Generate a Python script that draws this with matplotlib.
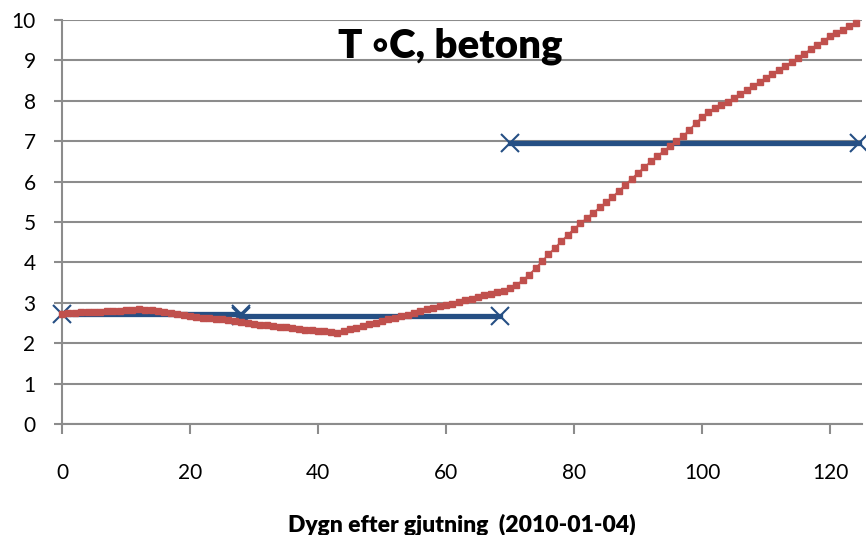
import matplotlib.pyplot as plt

# daily concrete temperature (red series), day 0..124
days = list(range(125))
temp = [
    2.73, 2.74, 2.75, 2.76, 2.77, 2.77, 2.78, 2.79, 2.79, 2.80,
    2.81, 2.82, 2.84, 2.83, 2.81, 2.79, 2.77, 2.75, 2.72, 2.70,
    2.67, 2.65, 2.63, 2.62, 2.60, 2.59, 2.57, 2.55, 2.52, 2.50,
    2.48, 2.46, 2.45, 2.43, 2.41, 2.39, 2.37, 2.35, 2.33, 2.32,
    2.30, 2.29, 2.27, 2.25, 2.30, 2.34, 2.38, 2.43, 2.47, 2.51,
    2.55, 2.59, 2.63, 2.67, 2.71, 2.75, 2.80, 2.84, 2.87, 2.91,
    2.95, 2.98, 3.02, 3.06, 3.10, 3.15, 3.19, 3.23, 3.27, 3.30,
    3.36, 3.45, 3.56, 3.70, 3.86, 4.03, 4.20, 4.36, 4.52, 4.68,
    4.83, 4.97, 5.10, 5.23, 5.36, 5.49, 5.62, 5.77, 5.92, 6.07,
    6.22, 6.36, 6.50, 6.63, 6.76, 6.88, 7.00, 7.12, 7.28, 7.44,
    7.60, 7.72, 7.81, 7.89, 7.97, 8.07, 8.17, 8.27, 8.37, 8.47,
    8.57, 8.67, 8.77, 8.87, 8.96, 9.06, 9.17, 9.28, 9.38, 9.49,
    9.60, 9.68, 9.76, 9.85, 9.93,
]

# step levels (blue series), one segment per pair
step_x = [[0, 28], [28, 68.5], [70, 124.5]]
step_y = [[2.73, 2.73], [2.67, 2.67], [6.95, 6.95]]

plt.rcParams['font.family'] = ['Lato', 'DejaVu Sans']

fig = plt.figure(figsize=(8.66, 5.35), dpi=100)
ax = fig.add_axes([62 / 866, 1 - 424 / 535, 800 / 866, 404 / 535])

ax.grid(axis='y', color='#8c8c8c', lw=1.5)
ax.set_axisbelow(True)

for xs, ys in zip(step_x, step_y):
    ax.plot(xs, ys, color='#254f84', lw=3.8, marker='x', ms=13, mew=1.5,
            clip_on=False, zorder=3)

ax.plot(days, temp, color='#c0504d', lw=1.0, marker='s', ms=4.5,
        mec='#c0504d', clip_on=False, zorder=4)

ax.set_xlim(0, 125)
ax.set_ylim(0, 10)
ax.set_xticks(range(0, 121, 20))
ax.set_yticks(range(0, 11))

for s in ['top', 'right']:
    ax.spines[s].set_visible(False)
for s in ['left', 'bottom']:
    ax.spines[s].set_color('#8c8c8c')
    ax.spines[s].set_linewidth(1.5)

ax.tick_params(axis='x', direction='out', length=7, width=1.5, color='#8c8c8c',
               labelsize=15, pad=21)
ax.tick_params(axis='y', direction='out', length=6, width=1.5, color='#8c8c8c',
               labelsize=15, pad=13)

ax.text(0.485, 0.935, 'T \u25e6C, betong', transform=ax.transAxes, ha='center',
        va='center', fontsize=29, fontweight='heavy')
ax.set_xlabel('Dygn efter gjutning  (2010-01-04)', fontsize=16.5,
              fontweight='heavy', labelpad=22)

fig.savefig('out.png', dpi=100)
